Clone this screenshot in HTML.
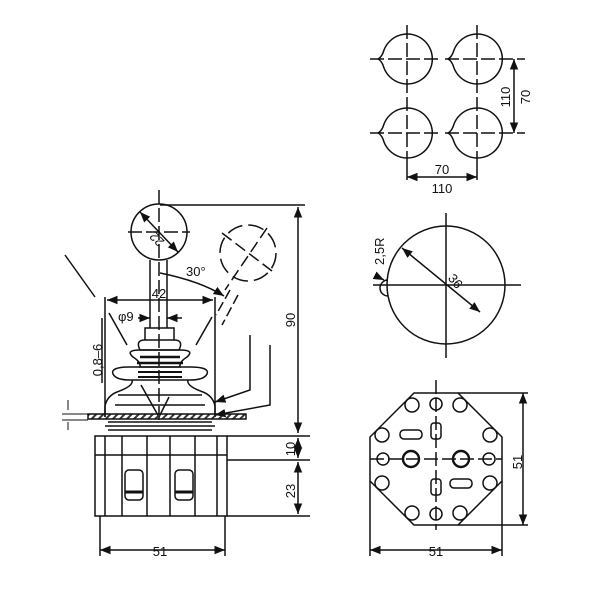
<!DOCTYPE html>
<html><head><meta charset="utf-8"><style>
html,body{margin:0;padding:0;background:#fff}
svg{display:block}
text{font-family:"Liberation Sans",sans-serif;fill:#111}
</style></head><body>
<svg width="600" height="600" viewBox="0 0 600 600" xmlns="http://www.w3.org/2000/svg">
<defs>
<marker id="a" viewBox="0 0 10 10" refX="10" refY="5" markerWidth="7" markerHeight="7" orient="auto-start-reverse"><path d="M0,1 L10,5 L0,9 z" fill="#111"/></marker>
<pattern id="h" width="5" height="5" patternUnits="userSpaceOnUse" patternTransform="rotate(45)"><rect width="2" height="5" fill="#333"/></pattern>
<path id="tc" d="M-29,0 Q-25,-2 -23,-9 A25,25 0 1 1 -23,9 Q-25,2 -29,0z"/>
</defs>
<g fill="none" stroke="#111" stroke-width="1.5">
<use href="#tc" x="407" y="59"/><use href="#tc" x="477" y="59"/>
<use href="#tc" x="407" y="133"/><use href="#tc" x="477" y="133"/>
<path d="M370,59h70M445,59h80M370,133h70M445,133h80" stroke-dasharray="14,4"/>
<path d="M407,25v140M477,25v140" stroke-dasharray="14,4"/>
<path d="M514,59v74" marker-start="url(#a)" marker-end="url(#a)"/>
<path d="M407,165v15M477,165v15"/>
<path d="M407,177h70" marker-start="url(#a)" marker-end="url(#a)"/>
<circle cx="446" cy="285" r="59"/>
<path d="M373,285h148M446,213v145"/>
<path d="M388,280a8,8 0 0 0 0,16"/>
<path d="M402,248L480,312" marker-start="url(#a)" marker-end="url(#a)"/>
<path d="M376,276l8,4" marker-end="url(#a)"/>
<path d="M414,393h44l44,44v44l-44,44h-44l-44,-44v-44z"/>
<path d="M370,459h132M436,380v150" stroke-dasharray="14,4"/>
<path d="M458,393h70M458,525h70M370,481v75M502,481v75"/>
<path d="M523,393v132" marker-start="url(#a)" marker-end="url(#a)"/>
<path d="M370,550h132" marker-start="url(#a)" marker-end="url(#a)"/>
<g stroke-width="1.5">
<circle cx="436" cy="404" r="6"/><circle cx="436" cy="514" r="6"/>
<circle cx="383" cy="459" r="6"/><circle cx="489" cy="459" r="6"/>
<circle cx="411" cy="459" r="8" stroke-width="2.4"/><circle cx="461" cy="459" r="8" stroke-width="2.4"/>
<circle cx="412" cy="405" r="7"/><circle cx="460" cy="405" r="7"/>
<circle cx="412" cy="513" r="7"/><circle cx="460" cy="513" r="7"/>
<circle cx="382" cy="435" r="7"/><circle cx="490" cy="435" r="7"/>
<circle cx="382" cy="483" r="7"/><circle cx="490" cy="483" r="7"/>
<rect x="431" y="423" width="10" height="16" rx="3"/><rect x="431" y="479" width="10" height="16" rx="3"/>
<rect x="400" y="430" width="22" height="9" rx="4"/><rect x="450" y="479" width="22" height="9" rx="4"/>
</g>
<circle cx="159" cy="232" r="28"/>
<path d="M159,190v230M128,232h62" stroke-dasharray="14,4"/>
<path d="M140,212l38,40" marker-start="url(#a)" marker-end="url(#a)"/>
<path d="M150,260v68M167,260v68"/>
<circle cx="248" cy="253" r="28" stroke-dasharray="16,6"/>
<path d="M222,233l50,38M267,228l-42,62" stroke-dasharray="12,5"/>
<path d="M230,290l-14,25M238,295l-16,30" stroke-dasharray="10,4"/>
<path d="M160,273q40,8 64,23" marker-end="url(#a)"/>
<path d="M160,205h145"/>
<path d="M298,207v226" marker-start="url(#a)" marker-end="url(#a)"/>
<path d="M65,255l30,42"/>
<path d="M105,297v120M215,297v120"/>
<path d="M107,300h106" marker-start="url(#a)" marker-end="url(#a)"/>
<path d="M138,318h12" marker-end="url(#a)"/><path d="M182,318h-15" marker-end="url(#a)"/>
<path d="M102,318v65"/>
<path d="M127,345l-18,-32M196,345l16,-28"/>
<path d="M145,340v-12h29v12"/>
<path d="M140,350q-5,-10 5,-10h29q10,0 5,10z"/>
<path d="M133,357q-8,-7 7,-7h40q15,0 7,7q-8,5 -7,10h-40q1,-5 -7,-10z"/>
<path d="M130,367h60q20,0 17,7q-3,6 -17,6h-60q-14,0 -17,-6q-3,-7 17,-7z"/>
<path d="M132,380q2,6 -15,12q-10,4 -12,14v11M188,380q-2,6 15,12q10,4 12,14v11"/>
<path d="M118,395h84M115,405h90"/>
<path d="M140,357h40M137,363h46" stroke-width="2.5"/>
<path d="M138,372h44M138,377h44" stroke-width="2"/>
<path d="M141,385l18,32l10,-20"/>
<rect x="88" y="414" width="158" height="5" fill="url(#h)"/>
<path d="M68,400v10M68,430v-8M62,414h26M62,420h26" stroke-width="1"/>
<path d="M108,422h104M105,426h110M108,430h104"/>
<path d="M250,335v55l-35,12" marker-end="url(#a)"/>
<path d="M270,345v60l-55,10" marker-end="url(#a)"/>
<rect x="95" y="436" width="132" height="80"/>
<path d="M95,455h132M227,436h83M227,460h83M227,516h83"/>
<path d="M105,436v80M122,436v80M147,436v80M170,436v80M195,436v80M217,436v80"/>
<rect x="125" y="470" width="18" height="30" rx="4"/>
<rect x="175" y="470" width="18" height="30" rx="4"/>
<path d="M125,492h18M175,492h18" stroke-width="3"/>
<path d="M298,438v20" marker-start="url(#a)" marker-end="url(#a)"/>
<path d="M298,462v52" marker-start="url(#a)" marker-end="url(#a)"/>
<path d="M100,516v40M225,516v40"/>
<path d="M100,550h125" marker-start="url(#a)" marker-end="url(#a)"/>
</g>
<g font-size="13">
<text x="160" y="556" text-anchor="middle">51</text>
<text x="436" y="556" text-anchor="middle">51</text>
<text x="442" y="174" text-anchor="middle">70</text>
<text x="442" y="193" text-anchor="middle">110</text>
<text transform="translate(510,97) rotate(-90)" text-anchor="middle">110</text>
<text transform="translate(530,97) rotate(-90)" text-anchor="middle">70</text>
<text transform="translate(522,462) rotate(-90)" text-anchor="middle">51</text>
<text transform="translate(295,320) rotate(-90)" text-anchor="middle">90</text>
<text transform="translate(295,449) rotate(-90)" text-anchor="middle">10</text>
<text transform="translate(295,491) rotate(-90)" text-anchor="middle">23</text>
<text transform="translate(102,360) rotate(-90)" text-anchor="middle">0,8–6</text>
<text transform="translate(384,265) rotate(-90)">2,5R</text>
<text transform="translate(452,284) rotate(50)" text-anchor="middle">36</text>
<text transform="translate(160,236) rotate(225)" text-anchor="middle">22</text>
<text x="186" y="276">30°</text>
<text x="159" y="298" text-anchor="middle">42</text>
<text x="118" y="321">φ9</text>
</g>
</svg>
</body></html>
